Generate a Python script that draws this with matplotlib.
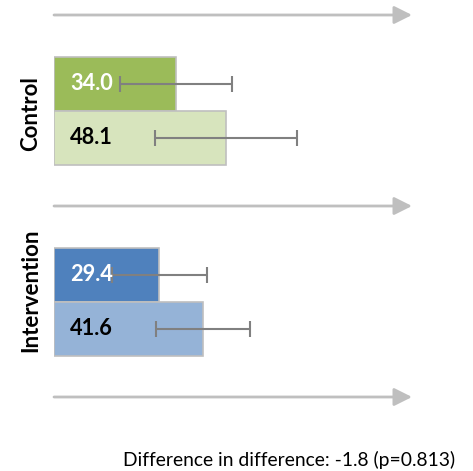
import matplotlib
matplotlib.use("Agg")
import matplotlib.pyplot as plt
from matplotlib.patches import ArrowStyle

plt.rcParams['font.family'] = ['Lato', 'DejaVu Sans']

groups = ["Control", "Intervention"]
after_vals = [34.0, 29.4]
before_vals = [48.1, 41.6]
after_err = [15.6, 13.3]
before_err = [19.9, 13.2]
after_colors = ["#9BBB59", "#4F81BD"]
before_colors = ["#D7E4BD", "#95B3D7"]
note = "Difference in difference: -1.8 (p=0.813)"

W, H = 473, 471
fig = plt.figure(figsize=(W / 100, H / 100), dpi=100)
x0, x1 = 54, 412
ax = fig.add_axes([x0 / W, 0, (x1 - x0) / W, 1])
ax.set_xlim(0, 100)
sp = 191.0
c0 = 110.5
ax.set_ylim((H - c0) / sp, -c0 / sp)
ax.axis("off")

bh = 54 / sp
for i, g in enumerate(groups):
    ax.barh(i - bh / 2, after_vals[i], height=bh, color=after_colors[i],
            edgecolor="#BFBFBF", linewidth=1.2, zorder=2)
    ax.barh(i + bh / 2, before_vals[i], height=bh, color=before_colors[i],
            edgecolor="#BFBFBF", linewidth=1.2, zorder=2)
    ax.errorbar(after_vals[i], i - bh / 2, xerr=after_err[i], fmt="none",
                ecolor="#808080", elinewidth=1.5, capsize=5.5, capthick=1.5, zorder=3)
    ax.errorbar(before_vals[i], i + bh / 2, xerr=before_err[i], fmt="none",
                ecolor="#808080", elinewidth=1.5, capsize=5.5, capthick=1.5, zorder=3)
    ax.text(4.5, i - bh / 2, f"{after_vals[i]:.1f}", color="white", fontsize=15.7,
            fontweight="bold", va="center", ha="left", zorder=4)
    ax.text(4.5, i + bh / 2, f"{before_vals[i]:.1f}", color="black", fontsize=15.7,
            fontweight="bold", va="center", ha="left", zorder=4)

for yy in [-0.5, 0.5, 1.5]:
    ax.annotate("", xy=(100, yy), xytext=(0, yy),
                arrowprops=dict(arrowstyle=ArrowStyle("-|>", head_length=1.08, head_width=0.54),
                                mutation_scale=10, color="#BFBFBF", lw=2,
                                shrinkA=0, shrinkB=0), zorder=1)

label_y = [114, 290]
for g, yp in zip(groups, label_y):
    fig.text(31 / W, 1 - yp / H, g, rotation=90, fontsize=16, fontweight="bold",
             ha="center", va="center")

fig.text(455 / W, 1 - 460 / H, note, fontsize=13.9, ha="right", va="center")

fig.savefig("out.png", dpi=100)
